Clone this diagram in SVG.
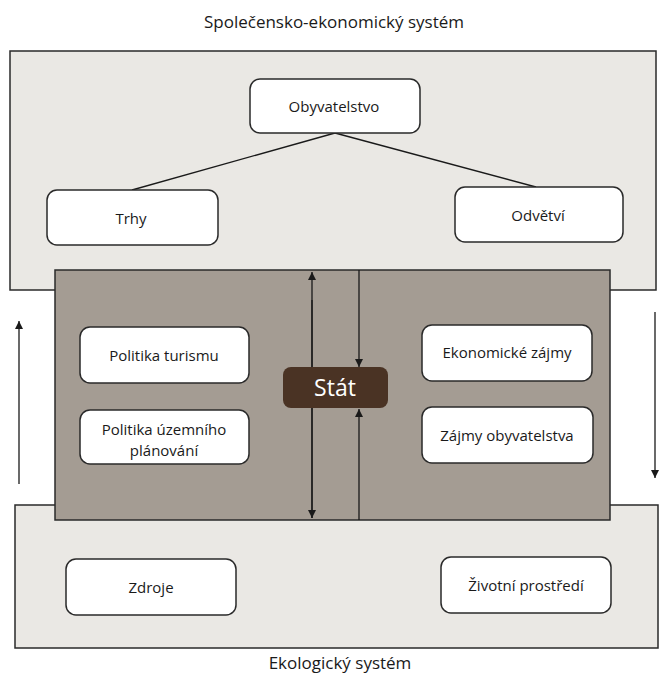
<svg xmlns="http://www.w3.org/2000/svg" width="664" height="684" viewBox="0 0 664 684">
<style>
.sys{fill:#eae8e4;stroke:#2a2a2a;stroke-width:1.5}
.mid{fill:#a49c93;stroke:#2a2a2a;stroke-width:1.5}
.box{fill:#ffffff;stroke:#2a2a2a;stroke-width:1.5}
.lbl{font-family:"Open Sans","Noto Sans",sans-serif;font-size:15px;fill:#1a1a1a;text-anchor:middle}
.ttl{font-family:"Open Sans","Noto Sans",sans-serif;font-size:17px;fill:#1a1a1a;text-anchor:middle}
.ln{stroke:#1a1a1a;stroke-width:1.3;fill:none}
</style>
<defs>
<marker id="ah" viewBox="0 0 10 10" refX="10" refY="5" markerWidth="8" markerHeight="8" markerUnits="userSpaceOnUse" orient="auto">
<path d="M0,0 L10,5 L0,10 z" fill="#1a1a1a"/>
</marker>
</defs>
<rect width="664" height="684" fill="#ffffff"/>
<text class="ttl" x="334" y="28">Společensko-ekonomický systém</text>
<text class="ttl" x="340" y="669">Ekologický systém</text>
<g id="socio">
<rect class="sys" x="10" y="51" width="646" height="239"/>
</g>
<g id="eco">
<rect class="sys" x="15" y="505" width="643" height="143"/>
</g>
<g id="middle">
<rect class="mid" x="55" y="270" width="555" height="250"/>
</g>
<g id="connectors">
<line class="ln" x1="335" y1="133" x2="132" y2="190"/>
<line class="ln" x1="335" y1="133" x2="536" y2="187"/>
<line class="ln" x1="312" y1="518" x2="312" y2="272" marker-end="url(#ah)"/>
<line class="ln" x1="312" y1="300" x2="312" y2="518" marker-end="url(#ah)"/>
<line class="ln" x1="359" y1="270" x2="359" y2="367" marker-end="url(#ah)"/>
<line class="ln" x1="359" y1="520" x2="359" y2="409" marker-end="url(#ah)"/>
<line class="ln" x1="19" y1="484" x2="19" y2="321" marker-end="url(#ah)"/>
<line class="ln" x1="655" y1="312" x2="655" y2="478" marker-end="url(#ah)"/>
</g>
<g id="obyvatelstvo">
<rect class="box" x="250" y="79" width="170" height="54" rx="10"/>
<text class="lbl" x="334" y="112">Obyvatelstvo</text>
</g>
<g id="trhy">
<rect class="box" x="47" y="190" width="171" height="55" rx="10"/>
<text class="lbl" x="131" y="224">Trhy</text>
</g>
<g id="odvetvi">
<rect class="box" x="455" y="187" width="168" height="55" rx="10"/>
<text class="lbl" x="538" y="221">Odvětví</text>
</g>
<g id="politika-turismu">
<rect class="box" x="80" y="327" width="169" height="56" rx="10"/>
<text class="lbl" x="164" y="361">Politika turismu</text>
</g>
<g id="politika-uzemniho">
<rect class="box" x="80" y="410" width="169" height="54" rx="10"/>
<text class="lbl" x="164" y="435">Politika územního</text>
<text class="lbl" x="164" y="456">plánování</text>
</g>
<g id="ekonomicke-zajmy">
<rect class="box" x="422" y="325" width="170" height="56" rx="10"/>
<text class="lbl" x="507" y="358">Ekonomické zájmy</text>
</g>
<g id="zajmy-obyvatelstva">
<rect class="box" x="422" y="407" width="171" height="56" rx="10"/>
<text class="lbl" x="507" y="441">Zájmy obyvatelstva</text>
</g>
<g id="stat">
<rect x="283" y="367" width="105" height="41" rx="8" fill="#4a3324"/>
<text x="335" y="396" text-anchor="middle" font-family="Open Sans, Noto Sans, sans-serif" font-size="23" fill="#ffffff">Stát</text>
</g>
<g id="zdroje">
<rect class="box" x="66" y="559" width="170" height="56" rx="10"/>
<text class="lbl" x="151" y="593">Zdroje</text>
</g>
<g id="zivotni-prostredi">
<rect class="box" x="441" y="557" width="170" height="56" rx="10"/>
<text class="lbl" x="526" y="591">Životní prostředí</text>
</g>
</svg>
